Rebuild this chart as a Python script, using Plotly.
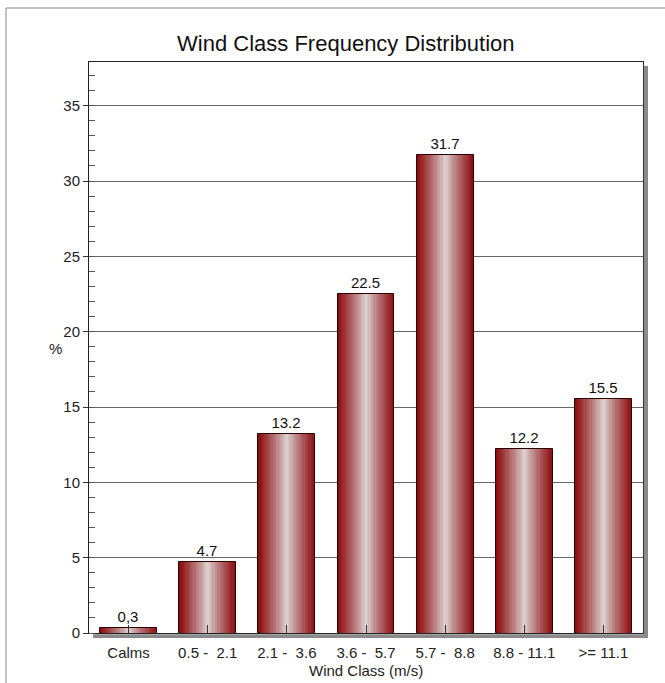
import plotly.graph_objects as go

categories = ["Calms", "0.5 -\u00a0 2.1", "2.1 -\u00a0 3.6", "3.6 -\u00a0 5.7",
              "5.7 -\u00a0 8.8", "8.8 - 11.1", ">= 11.1"]
values = [0.3, 4.7, 13.2, 22.5, 31.7, 12.2, 15.5]
value_labels = ["0,3", "4.7", "13.2", "22.5", "31.7", "12.2", "15.5"]

W, H = 665, 683
L, R, T, B = 89, 22, 62, 50
pw, ph = W - L - R, H - T - B

FONT = "Arial, Liberation Sans, sans-serif"
x_idx = list(range(len(categories)))

fig = go.Figure()

# gradient bars: stacked overlays of decreasing width
bar_w = 0.72
N = 24
dark = (140, 12, 14)
light = (226, 222, 222)
for k in range(N):
    t = 1 - k / N  # 1 at outer edge
    f = t ** 0.85
    c = tuple(int(light[i] + (dark[i] - light[i]) * f) for i in range(3))
    w = bar_w * (1 - k / N)
    fig.add_trace(go.Bar(
        x=x_idx, y=values, width=w,
        marker=dict(color="rgb(%d,%d,%d)" % c,
                    line=dict(width=1 if k == 0 else 0, color="#2a0000")),
        text=value_labels if k == 0 else None,
        textposition="outside" if k == 0 else None,
        textfont=dict(family=FONT, size=15, color="#111"),
        cliponaxis=False, showlegend=False, hoverinfo="skip" if k else None,
    ))

shapes = [
    # plot shadow right
    dict(type="rect", xref="paper", yref="paper", x0=1.0015, x1=1 + 5 / pw,
         y0=-4 / ph, y1=1 - 4 / ph, fillcolor="#8a8a8a", line=dict(width=0), layer="above"),
    # plot shadow bottom
    dict(type="rect", xref="paper", yref="paper", x0=4 / pw, x1=1 + 5 / pw,
         y0=-5 / ph, y1=-0.002, fillcolor="#8a8a8a", line=dict(width=0), layer="below"),
    # outer frame left
    dict(type="line", xref="paper", yref="paper", x0=(6 - L) / pw, x1=(6 - L) / pw,
         y0=-(B + 5) / ph, y1=1 + (T - 8) / ph, line=dict(color="#888", width=1)),
    # outer frame top
    dict(type="line", xref="paper", yref="paper", x0=(6 - L) / pw, x1=(W + 5 - L) / pw,
         y0=1 + (T - 8) / ph, y1=1 + (T - 8) / ph, line=dict(color="#888", width=1)),
]

annotations = [
    dict(text="%", xref="paper", yref="paper", x=(47 - L) / pw, y=(633 - 348) / ph,
         showarrow=False, font=dict(family=FONT, size=15, color="#222")),
    dict(text="Wind Class (m/s)", xref="paper", yref="paper", x=0.5, y=-(670 - 633) / ph,
         yanchor="middle", showarrow=False, font=dict(family=FONT, size=15, color="#222")),
]

fig.update_layout(
    width=W, height=H,
    margin=dict(l=L, r=R, t=T, b=B),
    paper_bgcolor="white", plot_bgcolor="white",
    barmode="overlay", bargap=0,
    title=dict(text="Wind Class Frequency Distribution", x=0.52, xanchor="center",
               y=1 - 43 / H, yanchor="middle", yref="container",
               font=dict(family=FONT, size=22, color="#111")),
    xaxis=dict(range=[-0.5, len(categories) - 0.5], tickvals=x_idx, ticktext=categories,
               ticks="inside", ticklen=8, tickcolor="#333", ticklabelstandoff=6,
               showline=True, linecolor="#222", linewidth=1, mirror=True,
               showgrid=False, zeroline=False,
               tickfont=dict(family=FONT, size=15, color="#222")),
    xaxis2=dict(range=[-0.5, len(categories) - 0.5], tickvals=x_idx, overlaying="x",
                anchor="y", side="bottom", ticks="outside", ticklen=10, tickcolor="#333",
                showticklabels=False, showgrid=False, zeroline=False, showline=False),
    yaxis=dict(range=[0, 37.9], dtick=5, tick0=0,
               ticks="outside", ticklen=5, tickcolor="#333",
               showline=True, linecolor="#222", linewidth=1, mirror=True,
               showgrid=True, gridcolor="#666", gridwidth=1, zeroline=False,
               minor=dict(dtick=1, ticks="inside", ticklen=6, tickcolor="#555", showgrid=False),
               tickfont=dict(family=FONT, size=15, color="#222")),
    shapes=shapes, annotations=annotations,
)

fig.write_html("out.html", config={"displayModeBar": False},
               post_script="document.body.style.margin='0';document.body.style.overflow='hidden';")
